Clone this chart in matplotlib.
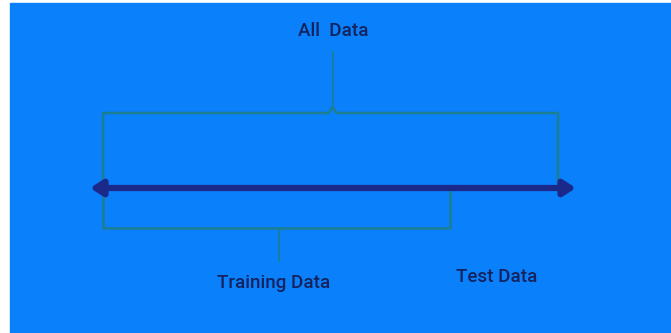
import matplotlib.pyplot as plt
from matplotlib.patches import Rectangle

# diagram content
labels = ["All  Data", "Training Data", "Test Data"]
axis_span = [90, 576]          # arrow ends (pixels)
all_span = [103, 558]          # top bracket
train_span = [103, 450]        # bottom bracket

bg_blue = "#0A80FB"
navy = "#1B2A8A"
teal = "#1C7F8F"
text_col = "#14235E"

fig = plt.figure(figsize=(6.71, 3.33), dpi=100)
ax = fig.add_axes([0, 0, 1, 1])
ax.set_xlim(0, 671)
ax.set_ylim(333, 0)
ax.axis('off')
fig.patch.set_facecolor("white")
ax.add_patch(Rectangle((10, 3), 661, 330, color=bg_blue, zorder=0))

y_axis = 188
# main double arrow
ax.annotate('', xy=(axis_span[1], y_axis), xytext=(axis_span[0], y_axis),
            arrowprops=dict(arrowstyle='<|-|>,head_length=0.7,head_width=0.45',
                            lw=4.5, color=navy, shrinkA=0, shrinkB=0))

# top bracket over all data
y_top = 113
mid = (all_span[0] + all_span[1]) / 2 + 2
ax.plot([all_span[0], all_span[0], mid - 4, mid, mid + 4, all_span[1], all_span[1]],
        [y_axis, y_top, y_top, y_top - 6, y_top, y_top, y_axis], color=teal, lw=1.8)
ax.plot([mid, mid], [y_top - 6, 52], color=teal, lw=1.2)

# bottom bracket under training data
y_bot = 228
tmid = (train_span[0] + train_span[1]) / 2 + 2
ax.plot([train_span[0], train_span[0], train_span[1], train_span[1]],
        [y_axis, y_bot, y_bot, y_axis], color=teal, lw=1.8)
ax.plot([tmid, tmid], [y_bot, 261], color=teal, lw=1.2)

font = dict(color=text_col, fontsize=13.5, ha='center', va='center',
            family=['Roboto', 'DejaVu Sans'], fontweight='medium')
ax.text(333, 31, labels[0], **font)
ax.text(274, 283, labels[1], **font)
ax.text(497, 277, labels[2], **font)

fig.savefig("out.png", dpi=100, facecolor=fig.get_facecolor())
plt.close()
